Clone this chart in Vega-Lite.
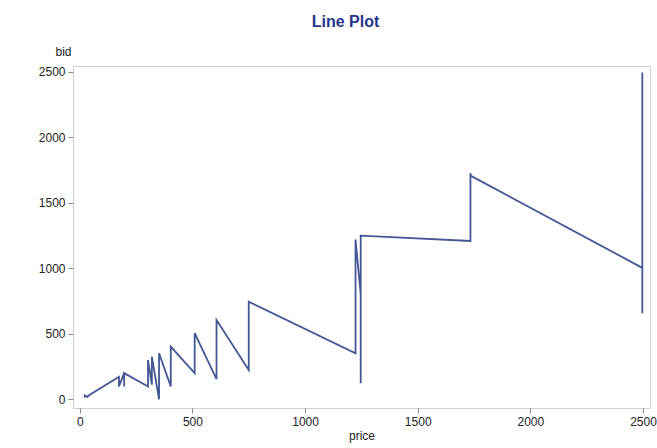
{
  "$schema": "https://vega.github.io/schema/vega-lite/v6.json",
  "width": 577,
  "height": 342,
  "autosize": {"type": "none"},
  "padding": {"left": 73, "top": 66, "right": 7, "bottom": 40},
  "background": "white",
  "title": {
    "text": "Line Plot",
    "frame": "group",
    "anchor": "middle",
    "offset": 15,
    "dx": -16,
    "font": "Liberation Sans",
    "fontSize": 16,
    "fontWeight": "bold",
    "color": "#26348B"
  },
  "config": {
    "view": {"stroke": "#cfcfcf", "strokeWidth": 1},
    "axis": {
      "domain": false,
      "grid": false,
      "tickColor": "#8a8a8a",
      "tickSize": 5,
      "labelPadding": 3,
      "labelFont": "Liberation Sans",
      "labelFontSize": 12,
      "labelColor": "#222222",
      "titleFont": "Liberation Sans",
      "titleFontSize": 12,
      "titleFontWeight": "normal",
      "titleColor": "#222222",
      "format": "d"
    }
  },
  "data": {
    "values": [
      {"i": 1, "price": 22, "bid": 12},
      {"i": 2, "price": 22, "bid": 30},
      {"i": 3, "price": 35, "bid": 18},
      {"i": 4, "price": 38, "bid": 28},
      {"i": 5, "price": 174, "bid": 172},
      {"i": 6, "price": 174, "bid": 98},
      {"i": 7, "price": 197, "bid": 200},
      {"i": 8, "price": 197, "bid": 98},
      {"i": 9, "price": 197, "bid": 200},
      {"i": 10, "price": 303, "bid": 98},
      {"i": 11, "price": 303, "bid": 300},
      {"i": 12, "price": 320, "bid": 112},
      {"i": 13, "price": 320, "bid": 325},
      {"i": 14, "price": 352, "bid": 0},
      {"i": 15, "price": 352, "bid": 352},
      {"i": 16, "price": 404, "bid": 98},
      {"i": 17, "price": 404, "bid": 402},
      {"i": 18, "price": 510, "bid": 200},
      {"i": 19, "price": 510, "bid": 505},
      {"i": 20, "price": 607, "bid": 155},
      {"i": 21, "price": 607, "bid": 605},
      {"i": 22, "price": 750, "bid": 224},
      {"i": 23, "price": 750, "bid": 745},
      {"i": 24, "price": 1224, "bid": 351},
      {"i": 25, "price": 1224, "bid": 1220},
      {"i": 26, "price": 1247, "bid": 800},
      {"i": 27, "price": 1247, "bid": 122},
      {"i": 28, "price": 1247, "bid": 1249},
      {"i": 29, "price": 1734, "bid": 1208},
      {"i": 30, "price": 1734, "bid": 1725},
      {"i": 31, "price": 1736, "bid": 1705},
      {"i": 32, "price": 2497, "bid": 1003},
      {"i": 33, "price": 2497, "bid": 656},
      {"i": 34, "price": 2497, "bid": 2493}
    ]
  },
  "mark": {"type": "line", "color": "#445694", "strokeWidth": 1.8},
  "encoding": {
    "x": {
      "field": "price",
      "type": "quantitative",
      "scale": {"domain": [-30, 2531], "nice": false, "zero": false},
      "axis": {"values": [0, 500, 1000, 1500, 2000, 2500], "title": "price", "titlePadding": 3}
    },
    "y": {
      "field": "bid",
      "type": "quantitative",
      "scale": {"domain": [-66, 2543], "nice": false, "zero": false},
      "axis": {
        "values": [0, 500, 1000, 1500, 2000, 2500],
        "title": "bid",
        "titleAngle": 0,
        "titleAlign": "center",
        "titleBaseline": "bottom",
        "titleX": -10,
        "titleY": -8
      }
    },
    "order": {"field": "i"}
  }
}
